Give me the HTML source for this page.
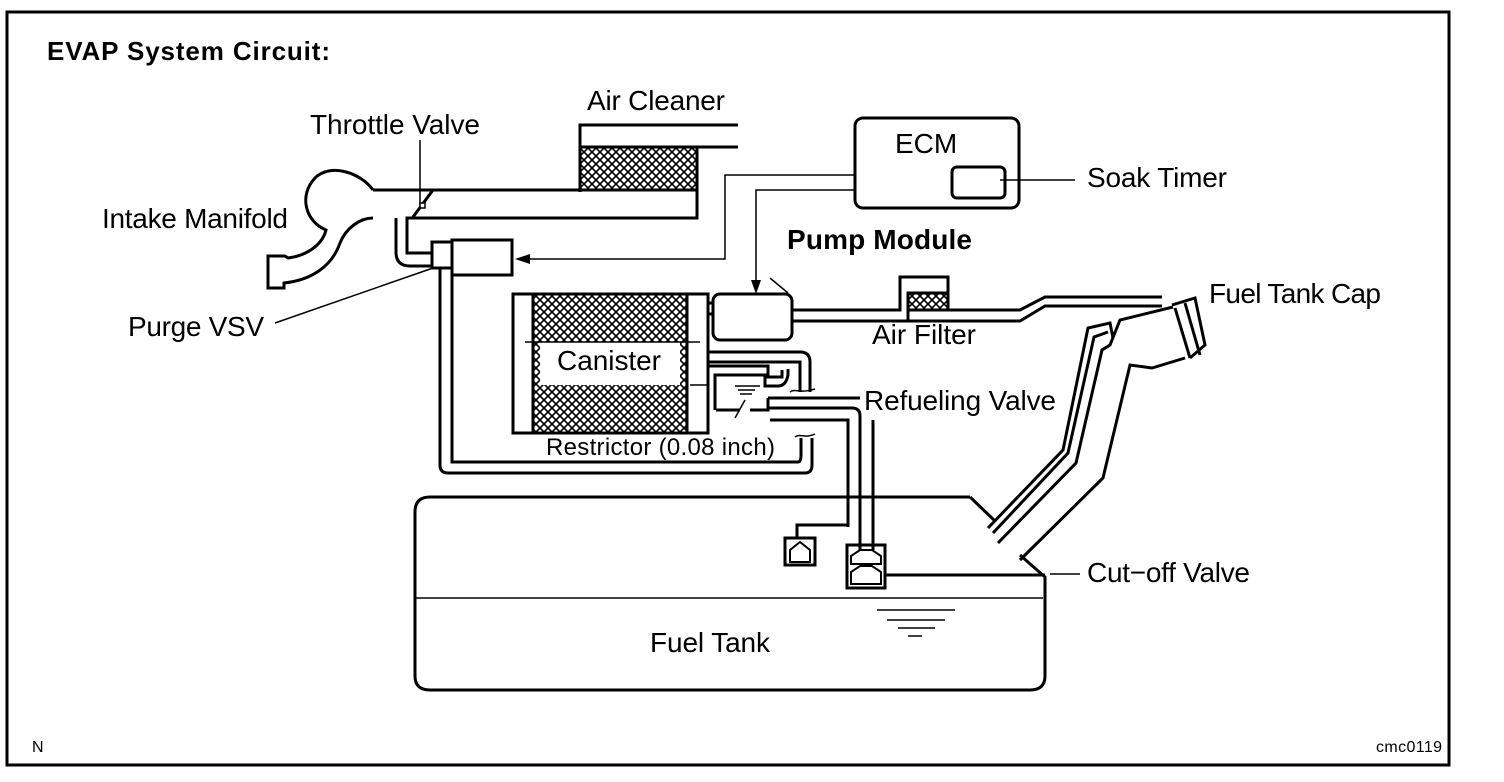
<!DOCTYPE html>
<html><head><meta charset="utf-8"><style>
html,body{margin:0;padding:0;background:#fff;}
svg{display:block;}
text{font-family:"Liberation Sans",sans-serif;fill:#000;}
</style></head><body>
<svg width="1504" height="782" viewBox="0 0 1504 782" xmlns="http://www.w3.org/2000/svg">
<defs>
<pattern id="h" width="8" height="8" patternUnits="userSpaceOnUse">
<rect width="8" height="8" fill="#fff"/>
<path d="M0,0L8,8M8,0L0,8" stroke="#000" stroke-width="1.6"/>
</pattern>
</defs>
<rect x="7" y="12" width="1442" height="753" fill="none" stroke="#000" stroke-width="3"/>
<text x="47" y="60" font-size="26" font-weight="bold" textLength="283">EVAP System Circuit:</text>

<g fill="none" stroke="#000" stroke-width="3">
<path d="M580,192V125H738"/>
<rect x="580" y="147" width="117" height="43" fill="url(#h)"/>
<path d="M697,147H738"/>
<path d="M373,190H580"/>
<path d="M697,190V218H407V253H433"/>
<path d="M373,190C360,172 330,163 315,178C298,196 306,222 326,230C322,246 305,256 288,258L285,256H268V288H284V283C312,280 332,266 340,243C346,228 360,218 373,218"/>
<path d="M396,218V252Q396,266 410,266H433"/>
<path d="M413,217L433,190"/>
<rect x="432" y="242" width="20" height="26"/>
<rect x="452" y="240" width="60" height="35"/>
<path d="M440,268V465Q440,473 448,473H805Q812,473 812,465V438"/>
<path d="M452,268V462H798Q801,462 801,455V438"/>
<rect x="513" y="294" width="195" height="139"/>
<rect x="533" y="294" width="154" height="139" fill="url(#h)"/>
<rect x="540" y="342" width="140" height="43" fill="#fff" stroke="none"/>
<rect x="713" y="294" width="79" height="46" rx="7"/>
<path d="M708,303H713M708,314H713"/>
<path d="M792,310H900V277H948V310H1020L1045,297H1162"/>
<path d="M792,321H1020L1045,306H1162"/>
<rect x="908" y="293" width="40" height="17" fill="url(#h)"/>
<path d="M908,293V321"/>
<path d="M707,352H800Q810,352 810,362V392"/>
<path d="M708,362H800V392"/>
<path d="M708,366H768V377H782V370"/>
<path d="M715,410V375H765V386H778Q786,386 788,375V369"/>
<path d="M716,410H740M750,410H768V398"/>
<path d="M768,408H852Q860,408 860,416V527"/>
<path d="M770,420H848Q848,420 848,428V527"/>
<path d="M768,398H860"/>
<path d="M873,420V550"/>
<path d="M860,527V550"/>
<rect x="855" y="118" width="164" height="90" rx="8"/>
<rect x="952" y="167" width="53" height="31" rx="5"/>
<path d="M970,497H430Q415,497 415,512V676Q415,690 430,690H1030Q1045,690 1045,676V577L1020,555"/>
<path d="M970,497L995,521"/>
<rect x="785" y="538" width="30" height="27"/>
<rect x="847" y="545" width="38" height="43"/>
<path d="M885,575H1045"/>
<path d="M797,538V525H848"/>
<path d="M988,528L1063,450L1088,328L1110,323L1113,338"/>
<path d="M993,533L1068,453L1094,337L1108,332"/>
<path d="M998,543L1076,463L1102,350L1110,345L1120,320L1173,307"/>
<path d="M1020,560L1103,478L1130,365L1152,368L1185,358"/>
<path d="M1175,308L1190,358M1185,303L1200,355M1172,305L1195,298L1205,345L1190,358"/>
</g>
<g fill="none" stroke="#000" stroke-width="2">
<path d="M790,562V550L800,542L810,550V562Z"/>
<path d="M851,564V556L860,550H872L881,556V564Z"/>
<path d="M851,584V572L860,566H872L881,572V584Z"/>
</g>
<g fill="none" stroke="#000" stroke-width="1.5">
<path d="M420,140V205"/>
<rect x="420" y="203" width="5" height="5" fill="#fff"/>
<path d="M855,175H725V259H528"/>
<path d="M855,190H756V290"/>
<path d="M525,342H700M690,385H708"/>
<path d="M275,323L433,268"/>
<path d="M770,278L788,293"/>
<path d="M1000,180H1075"/>
<path d="M415,598H1043"/>
<path d="M877,610H955M887,620H945M898,628H935M908,636H922"/>
<path d="M1050,574H1080"/>
<path d="M735,418L745,400"/>
<path d="M795,437c5,-4 10,2 20,-3"/>
<path d="M790,392c5,-4 10,2 25,-3"/>
<path d="M735,386H760M738,390H755M740,394H752"/>
</g>
<path d="M515,259L530,254V264Z" fill="#000"/>
<path d="M756,294L751,280H761Z" fill="#000"/>

<g font-size="28">
<text x="587" y="110" textLength="138">Air Cleaner</text>
<text x="310" y="134" textLength="170">Throttle Valve</text>
<text x="102" y="228" textLength="186">Intake Manifold</text>
<text x="895" y="153">ECM</text>
<text x="1087" y="187" textLength="140">Soak Timer</text>
<text x="787" y="249" font-weight="bold" textLength="185">Pump Module</text>
<text x="1209" y="303" textLength="172">Fuel Tank Cap</text>
<text x="872" y="344" textLength="104">Air Filter</text>
<text x="128" y="336" textLength="136">Purge VSV</text>
<text x="557" y="370" textLength="104">Canister</text>
<text x="864" y="410" textLength="192">Refueling Valve</text>
<text x="1087" y="582" textLength="163">Cut−off Valve</text>
<text x="650" y="652" textLength="120">Fuel Tank</text>
</g>
<text x="546" y="455" font-size="24" textLength="229">Restrictor (0.08 inch)</text>
<text x="32" y="752" font-size="16">N</text>
<text x="1376" y="752" font-size="16" textLength="66">cmc0119</text>
</svg>
</body></html>
